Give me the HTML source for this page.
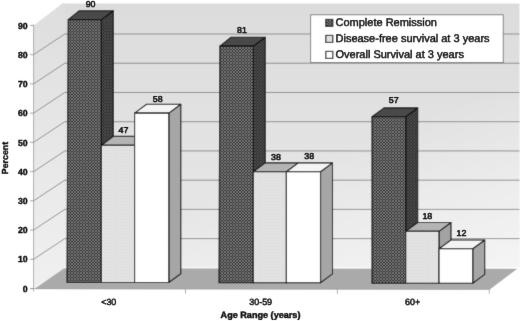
<!DOCTYPE html>
<html><head><meta charset="utf-8"><title>chart</title>
<style>
html,body{margin:0;padding:0;background:#fff;}
body{width:520px;height:321px;overflow:hidden;font-family:"Liberation Sans",sans-serif;}
svg{display:block;}
text{font-family:"Liberation Sans",sans-serif;fill:#0a0a0a;stroke:#0a0a0a;stroke-width:0.25px;text-rendering:geometricPrecision;}
.b{font-weight:bold;}
</style></head><body>
<svg width="520" height="321" viewBox="0 0 520 321" style="background:#fff">
<defs>
<pattern id="pd" width="3" height="3" patternUnits="userSpaceOnUse">
<rect width="3" height="3" fill="#363636"/>
<path d="M-1 -1L4 4M4 -1L-1 4M-1 2L1 4M2 -1L4 1M-1 1L1 -1M2 4L4 2" stroke="#767676" stroke-width="0.9"/>
</pattern>
<pattern id="pds" width="3" height="3" patternUnits="userSpaceOnUse">
<rect width="3" height="3" fill="#333"/>
<path d="M-1 -1L4 4M4 -1L-1 4M-1 2L1 4M2 -1L4 1M-1 1L1 -1M2 4L4 2" stroke="#4c4c4c" stroke-width="0.75"/>
</pattern>
<pattern id="pl" width="3" height="3" patternUnits="userSpaceOnUse">
<rect width="3" height="3" fill="#e6e6e6"/>
<rect x="0" y="0" width="1" height="1" fill="#cfcfcf"/>
<rect x="1.5" y="1.5" width="1" height="1" fill="#cfcfcf"/>
</pattern>
<linearGradient id="gw" x1="0" y1="0" x2="0" y2="1"><stop offset="0" stop-color="#dcdcdc"/><stop offset="1" stop-color="#e8e8e8"/></linearGradient>
<linearGradient id="gw2" x1="0.35" y1="0" x2="1" y2="1"><stop offset="0" stop-color="#fff" stop-opacity="0"/><stop offset="0.5" stop-color="#fff" stop-opacity="0"/><stop offset="1" stop-color="#fff" stop-opacity="0.55"/></linearGradient>
<linearGradient id="gs" x1="0" y1="0" x2="0" y2="1"><stop offset="0" stop-color="#dedede"/><stop offset="1" stop-color="#f0f0f0"/></linearGradient>
<filter id="blur2" filterUnits="userSpaceOnUse" x="-5" y="-5" width="530" height="331"><feConvolveMatrix order="3" kernelMatrix="0 1 0 1 14 1 0 1 0" divisor="18" edgeMode="duplicate" preserveAlpha="false"/></filter>
<filter id="blur" filterUnits="userSpaceOnUse" x="-5" y="-5" width="530" height="331"><feConvolveMatrix order="3" kernelMatrix="1 3 1 3 28 3 1 3 1" divisor="44" edgeMode="duplicate" preserveAlpha="false"/></filter>
</defs>
<g filter="url(#blur)">
<rect x="-5" y="-5" width="530" height="331" fill="#ffffff"/>

<polygon points="64.8,267.25 62,4 62,3.6 519.5,3.6 519.5,267.25" fill="url(#gw)"/>
<polygon points="64.8,267.25 62,4 62,3.6 519.5,3.6 519.5,267.25" fill="url(#gw2)"/>
<polygon points="33.6,288.5 33.6,25.430000000000007 62,3.8 64.8,3.8 64.8,267.25" fill="url(#gs)"/>
<polygon points="34.1,288.9 64,268.2 517.3,268.8 489.80000000000007,289.5" fill="#aaaaaa"/>
<path d="M33.6,259.27 L64.8,238.62 L519.5,238.62" fill="none" stroke="#6a6a6a" stroke-width="0.7"/>
<path d="M33.6,230.04 L64.8,209.39 L519.5,209.39" fill="none" stroke="#6a6a6a" stroke-width="0.7"/>
<path d="M33.6,200.81 L64.8,180.16 L519.5,180.16" fill="none" stroke="#6a6a6a" stroke-width="0.7"/>
<path d="M33.6,171.58 L64.8,150.93 L519.5,150.93" fill="none" stroke="#6a6a6a" stroke-width="0.7"/>
<path d="M33.6,142.35 L64.8,121.70 L519.5,121.70" fill="none" stroke="#6a6a6a" stroke-width="0.7"/>
<path d="M33.6,113.12 L64.8,92.47 L519.5,92.47" fill="none" stroke="#6a6a6a" stroke-width="0.7"/>
<path d="M33.6,83.89 L64.8,63.24 L519.5,63.24" fill="none" stroke="#6a6a6a" stroke-width="0.7"/>
<path d="M33.6,54.66 L64.8,34.01 L519.5,34.01" fill="none" stroke="#6a6a6a" stroke-width="0.7"/>
<path d="M33.6,24.430000000000007 L33.6,291.5" stroke="#999" stroke-width="0.8" fill="none"/>
<path d="M30.1,288.7 L489.30000000000007,289.4" stroke="#999" stroke-width="0.7" fill="none"/>
<path d="M30.1,288.50 L33.6,288.50" stroke="#888" stroke-width="0.8"/>
<path d="M30.1,259.27 L33.6,259.27" stroke="#888" stroke-width="0.8"/>
<path d="M30.1,230.04 L33.6,230.04" stroke="#888" stroke-width="0.8"/>
<path d="M30.1,200.81 L33.6,200.81" stroke="#888" stroke-width="0.8"/>
<path d="M30.1,171.58 L33.6,171.58" stroke="#888" stroke-width="0.8"/>
<path d="M30.1,142.35 L33.6,142.35" stroke="#888" stroke-width="0.8"/>
<path d="M30.1,113.12 L33.6,113.12" stroke="#888" stroke-width="0.8"/>
<path d="M30.1,83.89 L33.6,83.89" stroke="#888" stroke-width="0.8"/>
<path d="M30.1,54.66 L33.6,54.66" stroke="#888" stroke-width="0.8"/>
<path d="M30.1,25.43 L33.6,25.43" stroke="#888" stroke-width="0.8"/>
<path d="M185.5,289.0 L185.5,293.8" stroke="#999" stroke-width="0.8"/>
<path d="M337.40000000000003,289.0 L337.40000000000003,293.8" stroke="#999" stroke-width="0.8"/>
<path d="M489.30000000000007,289.0 L489.30000000000007,293.8" stroke="#999" stroke-width="0.8"/>
<polygon points="101.40,282.50 113.40,273.70 113.40,10.81 101.40,19.61" fill="url(#pds)" stroke="#0c0c0c" stroke-width="1.1" stroke-linejoin="round"/>
<polygon points="68.20,19.61 79.00,10.81 113.40,10.81 101.40,19.61" fill="#484848" stroke="#0c0c0c" stroke-width="1.1" stroke-linejoin="round"/>
<polygon points="134.60,282.50 146.60,273.70 146.60,136.41 134.60,145.21" fill="#a3a3a3" stroke="#0c0c0c" stroke-width="1.1" stroke-linejoin="round"/>
<polygon points="101.40,145.21 113.40,136.41 146.60,136.41 134.60,145.21" fill="#b4b4b4" stroke="#0c0c0c" stroke-width="1.1" stroke-linejoin="round"/>
<polygon points="168.80,282.50 180.80,273.70 180.80,104.28 168.80,113.08" fill="#a6a6a6" stroke="#0c0c0c" stroke-width="1.1" stroke-linejoin="round"/>
<polygon points="134.60,113.08 146.60,104.28 180.80,104.28 168.80,113.08" fill="#f4f4f4" stroke="#0c0c0c" stroke-width="1.1" stroke-linejoin="round"/>
<polygon points="67.00,282.50 68.20,19.61 101.40,19.61 101.40,282.50" fill="url(#pd)" stroke="#0c0c0c" stroke-width="1.1" stroke-linejoin="miter"/>
<polygon points="101.40,282.50 101.40,145.21 134.60,145.21 134.60,282.50" fill="url(#pl)" stroke="#0c0c0c" stroke-width="1.1" stroke-linejoin="miter"/>
<polygon points="134.60,282.50 134.60,113.08 168.80,113.08 168.80,282.50" fill="#ffffff" stroke="#0c0c0c" stroke-width="1.1" stroke-linejoin="miter"/>
<polygon points="253.30,282.70 265.30,273.90 265.30,37.30 253.30,46.10" fill="url(#pds)" stroke="#0c0c0c" stroke-width="1.1" stroke-linejoin="round"/>
<polygon points="219.90,46.10 231.00,37.30 265.30,37.30 253.30,46.10" fill="#484848" stroke="#0c0c0c" stroke-width="1.1" stroke-linejoin="round"/>
<polygon points="286.40,282.70 298.40,273.90 298.40,162.90 286.40,171.70" fill="#a3a3a3" stroke="#0c0c0c" stroke-width="1.1" stroke-linejoin="round"/>
<polygon points="253.30,171.70 265.30,162.90 298.40,162.90 286.40,171.70" fill="#b4b4b4" stroke="#0c0c0c" stroke-width="1.1" stroke-linejoin="round"/>
<polygon points="320.50,282.70 332.50,273.90 332.50,162.90 320.50,171.70" fill="#a6a6a6" stroke="#0c0c0c" stroke-width="1.1" stroke-linejoin="round"/>
<polygon points="286.40,171.70 298.40,162.90 332.50,162.90 320.50,171.70" fill="#f4f4f4" stroke="#0c0c0c" stroke-width="1.1" stroke-linejoin="round"/>
<polygon points="219.00,282.70 219.90,46.10 253.30,46.10 253.30,282.70" fill="url(#pd)" stroke="#0c0c0c" stroke-width="1.1" stroke-linejoin="miter"/>
<polygon points="253.30,282.70 253.30,171.70 286.40,171.70 286.40,282.70" fill="url(#pl)" stroke="#0c0c0c" stroke-width="1.1" stroke-linejoin="miter"/>
<polygon points="286.40,282.70 286.40,171.70 320.50,171.70 320.50,282.70" fill="#ffffff" stroke="#0c0c0c" stroke-width="1.1" stroke-linejoin="miter"/>
<polygon points="405.70,283.20 417.70,274.40 417.70,107.90 405.70,116.70" fill="url(#pds)" stroke="#0c0c0c" stroke-width="1.1" stroke-linejoin="round"/>
<polygon points="372.00,116.70 384.00,107.90 417.70,107.90 405.70,116.70" fill="#484848" stroke="#0c0c0c" stroke-width="1.1" stroke-linejoin="round"/>
<polygon points="439.00,283.20 451.00,274.40 451.00,222.52 439.00,231.32" fill="#a3a3a3" stroke="#0c0c0c" stroke-width="1.1" stroke-linejoin="round"/>
<polygon points="405.70,231.32 417.70,222.52 451.00,222.52 439.00,231.32" fill="#b4b4b4" stroke="#0c0c0c" stroke-width="1.1" stroke-linejoin="round"/>
<polygon points="472.70,283.20 484.70,274.40 484.70,239.95 472.70,248.75" fill="#a6a6a6" stroke="#0c0c0c" stroke-width="1.1" stroke-linejoin="round"/>
<polygon points="439.00,248.75 451.00,239.95 484.70,239.95 472.70,248.75" fill="#f4f4f4" stroke="#0c0c0c" stroke-width="1.1" stroke-linejoin="round"/>
<polygon points="372.00,283.20 372.00,116.70 405.70,116.70 405.70,283.20" fill="url(#pd)" stroke="#0c0c0c" stroke-width="1.1" stroke-linejoin="miter"/>
<polygon points="405.70,283.20 405.70,231.32 439.00,231.32 439.00,283.20" fill="url(#pl)" stroke="#0c0c0c" stroke-width="1.1" stroke-linejoin="miter"/>
<polygon points="439.00,283.20 439.00,248.75 472.70,248.75 472.70,283.20" fill="#ffffff" stroke="#0c0c0c" stroke-width="1.1" stroke-linejoin="miter"/>
<rect x="310.7" y="14.8" width="192.5" height="47.8" fill="#ffffff" stroke="#666" stroke-width="0.8"/>
<rect x="325.8" y="19.40" width="7.0" height="7.0" fill="url(#pd)" stroke="#0c0c0c" stroke-width="1.1"/>
<rect x="325.8" y="35.40" width="7.0" height="7.0" fill="url(#pl)" stroke="#0c0c0c" stroke-width="1.1"/>
<rect x="325.8" y="51.40" width="7.0" height="7.0" fill="#fff" stroke="#0c0c0c" stroke-width="1.1"/>
</g>
<g filter="url(#blur2)">
<text transform="translate(335.50,26.40) scale(1.0,1)" font-size="11.0" text-anchor="start" style="stroke-width:0.4px">Complete Remission</text>
<text transform="translate(335.50,42.40) scale(1.0,1)" font-size="11.0" text-anchor="start" style="stroke-width:0.4px">Disease-free survival at 3 years</text>
<text transform="translate(335.50,58.40) scale(1.0,1)" font-size="11.0" text-anchor="start" style="stroke-width:0.4px">Overall Survival at 3 years</text>
<text transform="translate(90.60,6.90) scale(1.04,1)" font-size="8.5" text-anchor="middle" style="stroke-width:0.5px">90</text>
<text transform="translate(123.40,133.20) scale(1.04,1)" font-size="8.5" text-anchor="middle" style="stroke-width:0.5px">47</text>
<text transform="translate(157.75,102.20) scale(1.04,1)" font-size="8.5" text-anchor="middle" style="stroke-width:0.5px">58</text>
<text transform="translate(242.00,33.45) scale(1.04,1)" font-size="8.5" text-anchor="middle" style="stroke-width:0.5px">81</text>
<text transform="translate(276.00,159.70) scale(1.04,1)" font-size="8.5" text-anchor="middle" style="stroke-width:0.5px">38</text>
<text transform="translate(309.25,159.30) scale(1.04,1)" font-size="8.5" text-anchor="middle" style="stroke-width:0.5px">38</text>
<text transform="translate(393.75,103.45) scale(1.04,1)" font-size="8.5" text-anchor="middle" style="stroke-width:0.5px">57</text>
<text transform="translate(427.30,219.20) scale(1.04,1)" font-size="8.5" text-anchor="middle" style="stroke-width:0.5px">18</text>
<text transform="translate(461.50,236.10) scale(1.04,1)" font-size="8.5" text-anchor="middle" style="stroke-width:0.5px">12</text>
<text class="b" transform="translate(27.60,291.70) scale(0.985,1)" font-size="8.8" text-anchor="end" style="stroke-width:0.4px">0</text>
<text class="b" transform="translate(27.60,262.47) scale(0.985,1)" font-size="8.8" text-anchor="end" style="stroke-width:0.4px">10</text>
<text class="b" transform="translate(27.60,233.24) scale(0.985,1)" font-size="8.8" text-anchor="end" style="stroke-width:0.4px">20</text>
<text class="b" transform="translate(27.60,204.01) scale(0.985,1)" font-size="8.8" text-anchor="end" style="stroke-width:0.4px">30</text>
<text class="b" transform="translate(27.60,174.78) scale(0.985,1)" font-size="8.8" text-anchor="end" style="stroke-width:0.4px">40</text>
<text class="b" transform="translate(27.60,145.55) scale(0.985,1)" font-size="8.8" text-anchor="end" style="stroke-width:0.4px">50</text>
<text class="b" transform="translate(27.60,116.32) scale(0.985,1)" font-size="8.8" text-anchor="end" style="stroke-width:0.4px">60</text>
<text class="b" transform="translate(27.60,87.09) scale(0.985,1)" font-size="8.8" text-anchor="end" style="stroke-width:0.4px">70</text>
<text class="b" transform="translate(27.60,57.86) scale(0.985,1)" font-size="8.8" text-anchor="end" style="stroke-width:0.4px">80</text>
<text class="b" transform="translate(27.60,28.63) scale(0.985,1)" font-size="8.8" text-anchor="end" style="stroke-width:0.4px">90</text>
<text transform="translate(108.75,304.50) scale(0.99,1)" font-size="9.0" text-anchor="middle" style="stroke-width:0.45px">&lt;30</text>
<text transform="translate(260.65,304.50) scale(0.99,1)" font-size="9.0" text-anchor="middle" style="stroke-width:0.45px">30-59</text>
<text transform="translate(412.55,304.50) scale(0.99,1)" font-size="9.0" text-anchor="middle" style="stroke-width:0.45px">60+</text>
<text class="b" transform="translate(260.50,317.60) scale(1.0,1)" font-size="9.1" text-anchor="middle" style="stroke-width:0.4px">Age Range (years)</text>
<text class="b" transform="translate(8.1,158) rotate(-90)" font-size="8.8" text-anchor="middle" style="stroke-width:0.4px">Percent</text>
</g></svg></body></html>
